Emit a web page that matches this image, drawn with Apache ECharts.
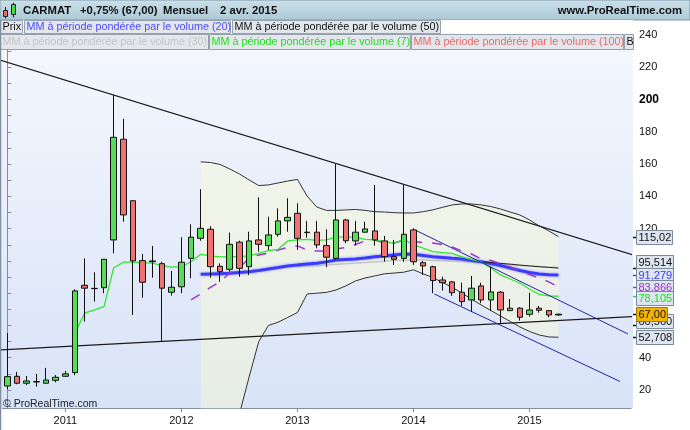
<!DOCTYPE html>
<html>
<head>
<meta charset="utf-8">
<script src="https://cdn.jsdelivr.net/npm/echarts@6.0.0/dist/echarts.min.js"></script>
<style>
html,body{margin:0;padding:0;background:#fff;overflow:hidden}
#chart{width:690px;height:430px}
</style>
</head>
<body>
<div id="chart"></div>
<script>
// ---------- DATA ----------
const months = [
 '2010-07','2010-08','2010-09','2010-10','2010-11','2010-12',
 '2011-01','2011-02','2011-03','2011-04','2011-05','2011-06','2011-07','2011-08','2011-09','2011-10','2011-11','2011-12',
 '2012-01','2012-02','2012-03','2012-04','2012-05','2012-06','2012-07','2012-08','2012-09','2012-10','2012-11','2012-12',
 '2013-01','2013-02','2013-03','2013-04','2013-05','2013-06','2013-07','2013-08','2013-09','2013-10','2013-11','2013-12',
 '2014-01','2014-02','2014-03','2014-04','2014-05','2014-06','2014-07','2014-08','2014-09','2014-10','2014-11','2014-12',
 '2015-01','2015-02','2015-03','2015-04','2015-05','2015-06','2015-07','2015-08','2015-09','2015-10','2015-11'
];
const candleOpen  = [22.5,28.5,24.2,25.0,24.2,26.0,28.5,30.8,84.9,82.8,83.4,113.0,175.4,137.3,100.2,100.0,98.3,80.6,84.0,101.6,
 114.0,119.6,96.7,94.8,111.6,96.4,113.0,109.5,116.5,124.8,129.5,117.5,117.8,109.5,101.6,125.4,112.4,117.8,118.6,112.4,
 102.6,101.6,119.2,98.9,96.4,88.2,87.0,80.6,75.8,84.5,75.8,80.6,69.2,70.7,66.9,70.7,69.2,66.5];
const candleClose = [28.3,24.2,25.6,25.2,26.2,27.9,30.0,81.4,83.1,83.0,101.0,176.6,128.5,100.0,86.8,99.5,83.1,83.7,99.2,114.7,
 120.2,96.4,93.3,110.3,95.4,112.4,110.3,116.1,124.8,127.0,114.0,117.8,109.9,102.3,125.4,112.5,117.8,119.8,113.0,102.6,
 101.0,116.5,99.5,96.9,87.8,86.5,80.3,74.8,83.1,75.8,80.8,69.6,70.7,65.1,69.6,69.4,66.5,67.0];
const candleLow   = [20.5,23.6,23.0,22.1,24.0,24.8,28.1,29.2,62.4,74.8,80.0,104.7,124.3,66.5,77.2,89.6,50.0,78.5,80.0,89.3,
 112.5,89.6,87.1,93.3,90.2,91.3,105.7,106.8,115.0,118.1,106.8,114.4,107.8,96.1,100.6,111.0,109.5,117.5,109.5,99.5,
 97.5,99.5,97.5,91.3,80.0,81.6,78.3,72.1,68.6,73.8,69.0,61.4,69.0,63.0,65.5,67.9,65.1,66.0];
const candleHigh  = [55.2,31.2,28.7,30.0,33.7,29.3,31.8,82.4,101.6,93.0,101.0,202.8,188.0,137.5,104.3,109.3,99.5,93.8,114.7,122.7,
 144.4,121.5,98.5,117.5,112.5,118.1,139.4,127.4,132.6,138.8,135.7,124.8,124.8,119.6,160.1,126.0,124.8,124.3,147.1,115.5,
 113.0,147.1,120.2,100.0,97.0,90.2,87.6,86.5,90.7,86.5,96.4,81.4,76.4,71.3,80.3,72.1,69.2,67.4];

// moving averages (each starts at the given month index)
const ma7Start = 7;
const ma7 = [55.4,67.6,69.6,71.7,95.8,99.2,99.2,98.9,98.6,97.1,96.1,96.4,99.5,104.1,103.1,102.5,102.6,102.6,103.1,104.7,
 106.4,107.2,112.4,113.0,113.4,112.7,113.0,114.7,114.7,114.7,113.4,113.0,111.9,110.9,113.4,109.9,108.0,105.7,105.2,104.7,
 102.5,100.9,99.5,95.6,91.3,88.8,86.3,82.6,79.2,78.3,78.105];
const ma20Start = 20;
const ma20 = [91.7,91.9,92.1,92.3,92.8,93.3,94.1,95.0,95.9,96.9,97.5,98.1,98.5,99.4,100.6,100.9,101.2,101.8,102.6,103.1,
 103.7,104.3,104.1,103.4,102.6,102.1,101.6,101.2,100.3,99.5,98.4,97.2,95.6,94.1,92.8,91.9,91.4,91.279];
const ma30Start = 30;
const ma30 = [96.4,96.7,97.0,97.4,97.8,98.2,98.6,99.0,99.4,99.8,100.2,100.5,100.6,100.5,100.3,100.1,99.9,99.6,99.3,
 99.0,98.6,98.2,97.7,97.3,96.9,96.5,96.2,96.0];
const ma50Start = 49;
const ma50 = [99.5,99.0,98.5,98.0,97.4,96.9,96.4,96.0,95.514];
const ma100Start = 19;
const ma100 = [75.8,79.5,83.6,87.0,92.5,95.6,101.8,103.7,104.9,106.8,108.3,109.3,106.8,106.2,106.2,107.4,108.3,110.2,112.4,113.0,
 111.1,111.1,112.7,112.0,111.4,111.1,110.2,108.6,106.2,104.3,101.2,100.3,98.1,96.3,93.8,91.6,89.4,87.0,83.866];
// Bollinger bands
const bbStart = 20;
const bbUpper = [161.4,161.0,159.8,157.0,153.9,150.2,146.7,147.1,148.3,149.5,150.5,140.2,133.4,131.3,131.3,131.6,131.9,131.3,130.5,130.3,
 129.9,129.7,129.7,130.5,131.6,133.2,134.7,135.3,135.3,134.7,133.7,132.2,130.3,128.5,125.4,121.7,118.6,115.02];
const bbLower = [-30,-25,-15,-5,5,28,50,60,62,65,68,79.5,80.0,80.5,82.0,84.5,87.6,89.4,90.7,92.0,
 92.5,93.0,94.5,92.0,89.7,86.7,83.7,80.1,76.4,72.7,69.3,65.9,62.5,59.1,56.3,54.1,52.9,52.708];
// trend lines: [monthIndex, price]
const trendUpper = [[-0.755,224.5],[64.7,103.7]];
const trendLower = [[-0.755,44.8],[64.7,65.5]];
const channelUpper = [[42.16,119.2],[64.19,54.7]];
const channelLower = [[44.16,79.5],[63.36,25.3]];
// axis labels and right-hand value tags
const yTickValues = [10,20,30,40,50,60,70,80,90,100,110,120,130,140,150,160,170,180,190,200,210,220,230,240];
const yLabelValues = [20,40,60,80,100,120,140,160,180,200,220,240];
const tagValues = [115.02,95.514,91.279,83.866,78.105,60.56,67.00,52.708];
const tagTexts = ['115,02','95,514','91,279','83,866','78,105','60,560','67,00','52,708'];

// ---------- STYLE ----------
const FONT = '"Liberation Sans", Arial, Helvetica, sans-serif';
const tagColors = ['#111','#111','#3838ff','#9a30c8','#22dd22','#111','#111','#111'];
const tagTickColors = ['#111','#111','#3838ff','#9a30c8','#22dd22','#111','#111','#111'];
const tagBg = ['#dde5f0','#dde5f0','#dde5f0','#dde5f0','#dde5f0','#dde5f0','#f2b400','#dde5f0'];
const tagNudge = [0,-6,0,0,2,-4,0,0];

function pad(start, arr){ const out=[]; for(let i=0;i<start;i++) out.push('-'); return out.concat(arr); }

const candleData = candleOpen.map((o,i)=>[o, candleClose[i], candleLow[i], candleHigh[i]]);
const bbLowerData = pad(bbStart, bbLower);
const bbWidthData = pad(bbStart, bbUpper.map((u,i)=>+(u-bbLower[i]).toFixed(3)));
const isJan = (idx, val) => val.slice(5) === '01';

const chart = echarts.init(document.getElementById('chart'), null, {renderer:'canvas', width:690, height:430});

const option = {
  animation:false,
  textStyle:{fontFamily:FONT},
  grid:{left:2.5, right:59, top:20, bottom:22, containLabel:false, outerBoundsMode:'none', show:false},
  xAxis:[
    {type:'category', data:months, boundaryGap:true,
     axisLine:{show:true, lineStyle:{color:'#7f8f9f'}},
     axisTick:{show:true, alignWithLabel:true, interval:isJan, length:4, lineStyle:{color:'#7f8f9f'}},
     axisLabel:{interval:isJan, formatter:v=>v.slice(0,4), color:'#111', fontSize:11, margin:7, fontFamily:FONT},
     splitLine:{show:false}},
    {type:'value', min:-0.5, max:64.5, show:false}
  ],
  yAxis:[{type:'value', position:'right', offset:2, min:8.85, max:249.3, scale:false,
     axisLine:{show:true, lineStyle:{color:'#7f8f9f'}},
     axisTick:{show:true, length:4, customValues:yTickValues, lineStyle:{color:'#7f8f9f'}},
     axisLabel:{customValues:yLabelValues, margin:6, color:'#111', fontSize:11, fontFamily:FONT,
       formatter:v=> v===200 ? '{b|200}' : String(v),
       rich:{b:{fontWeight:'bold', fontSize:12, color:'#000', fontFamily:FONT}}},
     splitLine:{show:false}}],
  series:[
    {type:'line', data:bbLowerData, stack:'bb', stackStrategy:'all', symbol:'none', silent:true,
     lineStyle:{color:'#333', width:1}, z:1},
    {type:'line', data:bbWidthData, stack:'bb', stackStrategy:'all', symbol:'none', silent:true,
     lineStyle:{color:'#333', width:1}, areaStyle:{color:'rgba(250,250,210,0.62)'}, z:1},
    {type:'line', data:pad(ma30Start, ma30), symbol:'none', silent:true, lineStyle:{color:'#c8c8c8', width:1.5}, z:2},
    {type:'line', data:pad(ma20Start, ma20), symbol:'none', silent:true,
     lineStyle:{color:'#3b3bff', width:3, shadowColor:'rgba(70,70,255,0.55)', shadowBlur:3}, z:2},
    {type:'line', data:pad(ma50Start, ma50), symbol:'none', silent:true, lineStyle:{color:'#222', width:1}, z:2},
    {type:'line', data:pad(ma100Start, ma100), symbol:'none', silent:true, lineStyle:{color:'#9b38d0', width:1.5, type:[10,10]}, z:2},
    {type:'line', data:pad(ma7Start, ma7), symbol:'none', silent:true, lineStyle:{color:'#2ee82e', width:1.3}, z:2},
    {type:'line', xAxisIndex:1, data:trendUpper, symbol:'none', silent:true, clip:false, lineStyle:{color:'#1a1a1a', width:1.2}, z:3},
    {type:'line', xAxisIndex:1, data:trendLower, symbol:'none', silent:true, clip:false, lineStyle:{color:'#1a1a1a', width:1.2}, z:3},
    {type:'line', xAxisIndex:1, data:channelUpper, symbol:'none', silent:true, clip:false, lineStyle:{color:'#2424a8', width:1}, z:3},
    {type:'line', xAxisIndex:1, data:channelLower, symbol:'none', silent:true, clip:false, lineStyle:{color:'#2424a8', width:1}, z:3},
    {type:'candlestick', data:candleData, barWidth:6, silent:true,
     itemStyle:{color:'#55dd55', color0:'#ee7272', borderColor:'#111', borderColor0:'#111', borderWidth:1}, z:5}
  ]
};
chart.setOption(option);

// ---------- decorations ----------
const yPix = v => chart.convertToPixel({yAxisIndex:0}, v);
const ctx = document.createElement('canvas').getContext('2d');
function textW(t, font){ ctx.font = font; return ctx.measureText(t).width; }

const g = [];
// plot background gradient (behind series)
g.push({type:'rect', z:-10, silent:true, shape:{x:0, y:20, width:633, height:388},
  style:{fill:new echarts.graphic.LinearGradient(0,0,0,1,[{offset:0,color:'#f6f8fe'},{offset:1,color:'#d8e3f7'}])}});
// left border
g.push({type:'line', z:120, silent:true, shape:{x1:0.5, y1:20, x2:0.5, y2:430}, style:{stroke:'#7f8f9f', lineWidth:1.5}});

// header bar
g.push({type:'rect', z:100, silent:true, shape:{x:0, y:0, width:690, height:20},
  style:{fill:new echarts.graphic.LinearGradient(0,0,0,1,[{offset:0,color:'#cbe0ea'},{offset:1,color:'#acc9d7'}]), stroke:'#7f98a6', lineWidth:1}});
// icon (small candles)
g.push({type:'line', z:101, shape:{x1:5.5,y1:7,x2:5.5,y2:18.5}, style:{stroke:'#222', lineWidth:1}});
g.push({type:'rect', z:102, shape:{x:3.5,y:10.5,width:4,height:6}, style:{fill:'#ee6666', stroke:'#222', lineWidth:1}});
g.push({type:'line', z:101, shape:{x1:13.5,y1:2.5,x2:13.5,y2:17.5}, style:{stroke:'#222', lineWidth:1}});
g.push({type:'rect', z:102, shape:{x:11.5,y:4.5,width:4,height:10}, style:{fill:'#44dd44', stroke:'#222', lineWidth:1}});
const hdrFont = 'bold 11.3px ' + FONT;
[['CARMAT',23],['+0,75% (67,00)',80],['Mensuel',163],['2 avr. 2015',220]].forEach(([t,x])=>{
  g.push({type:'text', z:103, silent:true, x:x, y:11, style:{text:t, font:hdrFont, fill:'#111', verticalAlign:'middle', align:'left'}});
});
g.push({type:'text', z:103, silent:true, x:682, y:11, style:{text:'www.ProRealTime.com', font:hdrFont, fill:'#111', verticalAlign:'middle', align:'right'}});

// legend rows
const legFont = '10.8px ' + FONT;
g.push({type:'rect', z:100, silent:true, shape:{x:0,y:20,width:633,height:14}, style:{fill:'#ffffff'}});
g.push({type:'rect', z:100, silent:true, shape:{x:0,y:34,width:633,height:16}, style:{fill:'#dfe3e8'}});
const legendBoxes = [
  {x:0.5, y:20.5, w:22, h:13, t:'Prix', c:'#111'},
  {x:24.5, y:20.5, w:206, h:13, t:'MM à période pondérée par le volume (20)', c:'#4b4bff'},
  {x:232.5, y:20.5, w:208, h:13, t:'MM à période pondérée par le volume (50)', c:'#111'},
  {x:0.5, y:34.5, w:208, h:15, t:'MM à période pondérée par le volume (30)', c:'#c4c4c4'},
  {x:209.5, y:34.5, w:201, h:15, t:'MM à période pondérée par le volume (7)', c:'#1fe01f'},
  {x:411.5, y:34.5, w:212, h:15, t:'MM à période pondérée par le volume (100)', c:'#e36c6c'},
  {x:624.5, y:34.5, w:9, h:15, t:'B', c:'#111'}
];
legendBoxes.forEach(b=>{
  g.push({type:'rect', z:101, silent:true, shape:{x:b.x,y:b.y,width:b.w,height:b.h}, style:{fill:'#e3e7ec', stroke:'#95a1ac', lineWidth:1}});
  g.push({type:'text', z:102, silent:true, x:b.x+2, y:b.y+b.h/2+0.5, style:{text:b.t, font:legFont, fill:b.c, verticalAlign:'middle'}});
});

// copyright
g.push({type:'text', z:50, silent:true, x:3, y:404, style:{text:'© ProRealTime.com', font:'10.5px '+FONT, fill:'#222', verticalAlign:'middle'}});

// value tags on right axis
const tagFont = '11px ' + FONT;
tagValues.forEach((v,i)=>{
  const y = yPix(v);
  const yc = y + tagNudge[i];
  const w = textW(tagTexts[i], tagFont) + 3;
  g.push({type:'line', z:110+i*2, silent:true, shape:{x1:633, y1:Math.round(y)+0.5, x2:637, y2:Math.round(y)+0.5}, style:{stroke:tagTickColors[i], lineWidth:1.5}});
  g.push({type:'rect', z:110+i*2, silent:true, shape:{x:636.5, y:Math.round(yc-7)+0.5, width:Math.round(w), height:14},
    style:{fill:tagBg[i], stroke: tagBg[i]==='#f2b400' ? '#a07a00' : '#7a8a9a', lineWidth:1}});
  g.push({type:'text', z:111+i*2, silent:true, x:638.5, y:Math.round(yc)+1, style:{text:tagTexts[i], font:tagFont, fill:tagColors[i], verticalAlign:'middle'}});
});

chart.setOption({graphic:g});
</script>
</body>
</html>
